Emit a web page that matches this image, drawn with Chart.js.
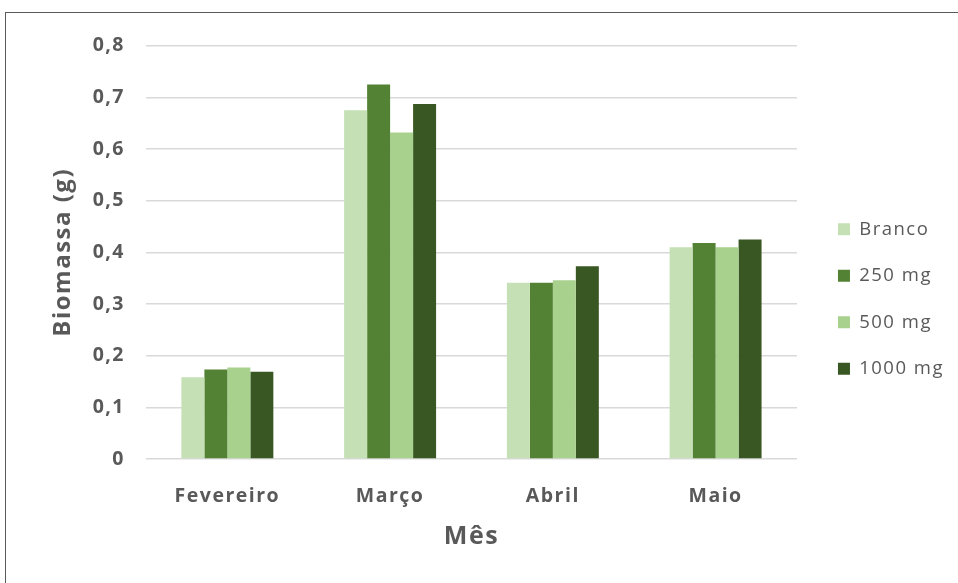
<!DOCTYPE html>
<html lang="pt">
<head>
    <meta charset="UTF-8">
    <title>Biomassa por mês</title>
    <script src="https://cdn.jsdelivr.net/npm/chart.js"></script>
    <style>
        body {
            margin: 0;
            background: #fff;
            overflow: hidden;
        }
        #frame {
            position: absolute;
            left: 5px;
            top: 12px;
            width: 953px;
            height: 571px;
            border-left: 1px solid #5a5a5a;
            border-top: 1px solid #5a5a5a;
        }
        canvas {
            display: block;
        }
    </style>
</head>
<body>
    <div id="frame">
        <canvas id="chart" width="953" height="571"></canvas>
    </div>

    <script>
        const months = ['Fevereiro', 'Março', 'Abril', 'Maio'];
        const branco = [0.158, 0.675, 0.341, 0.410];
        const mg250 = [0.173, 0.725, 0.341, 0.418];
        const mg500 = [0.177, 0.632, 0.346, 0.410];
        const mg1000 = [0.169, 0.687, 0.373, 0.425];
        const yTicks = [0, 0.1, 0.2, 0.3, 0.4, 0.5, 0.6, 0.7, 0.8];

        const grey = '#595959';
        const fontName = "'Open Sans', sans-serif";

        function series(label, data, color) {
            return {
                label: label,
                data: data,
                backgroundColor: color,
                borderWidth: 0,
                categoryPercentage: 0.565,
                barPercentage: 1.0
            };
        }

        // the original text is spaced out a bit, canvas can do that too
        const spacing = {
            id: 'spacing',
            beforeInit: (chart) => { chart.ctx.letterSpacing = '1.5px'; },
            beforeLayout: (chart) => { chart.ctx.letterSpacing = '1.5px'; },
            beforeDraw: (chart) => { chart.ctx.letterSpacing = '1.5px'; }
        };

        const ctx = document.getElementById('chart').getContext('2d');
        new Chart(ctx, {
            type: 'bar',
            data: {
                labels: months,
                datasets: [
                    series('Branco', branco, '#C5E0B4'),
                    series('250 mg', mg250, '#548235'),
                    series('500 mg', mg500, '#A9D18E'),
                    series('1000 mg', mg1000, '#385723')
                ]
            },
            plugins: [spacing],
            options: {
                responsive: false,
                animation: false,
                layout: { padding: { top: 25, right: 5, bottom: 24, left: 0 } },
                plugins: {
                    tooltip: { enabled: false },
                    legend: {
                        position: 'right',
                        labels: {
                            color: grey,
                            boxWidth: 12,
                            boxHeight: 12,
                            padding: 28,
                            font: { family: fontName, size: 18.5 }
                        }
                    }
                },
                scales: {
                    x: {
                        grid: { display: false },
                        border: { display: false },
                        ticks: {
                            color: grey,
                            padding: 18,
                            font: { family: fontName, size: 19.5, weight: 'bold' }
                        },
                        title: {
                            display: true,
                            text: 'Mês',
                            color: grey,
                            padding: { top: 0, bottom: 8 },
                            font: { family: fontName, size: 25, weight: 'bold' }
                        },
                        afterFit: (scale) => { scale.height = 101; }
                    },
                    y: {
                        min: 0,
                        max: 0.8,
                        afterBuildTicks: (scale) => {
                            scale.ticks = yTicks.map(v => ({ value: v }));
                        },
                        grid: { color: '#d9d9d9', lineWidth: 1.5, drawTicks: false },
                        border: { display: false },
                        ticks: {
                            color: grey,
                            padding: 21,
                            font: { family: fontName, size: 19.5, weight: 'bold' },
                            callback: (v) => v === 0 ? '0' : v.toFixed(1).replace('.', ',')
                        },
                        title: {
                            display: true,
                            text: 'Biomassa (g)',
                            color: grey,
                            padding: { top: 43, bottom: 0 },
                            font: { family: fontName, size: 24, weight: 'bold' }
                        },
                        afterFit: (scale) => { scale.width = 140; }
                    },
                    // empty strip between the plot and the legend
                    gap: {
                        type: 'linear',
                        position: 'right',
                        grid: { display: false },
                        border: { display: false },
                        ticks: { display: false },
                        afterFit: (scale) => { scale.width = 13; }
                    }
                }
            }
        });
    </script>
</body>
</html>
